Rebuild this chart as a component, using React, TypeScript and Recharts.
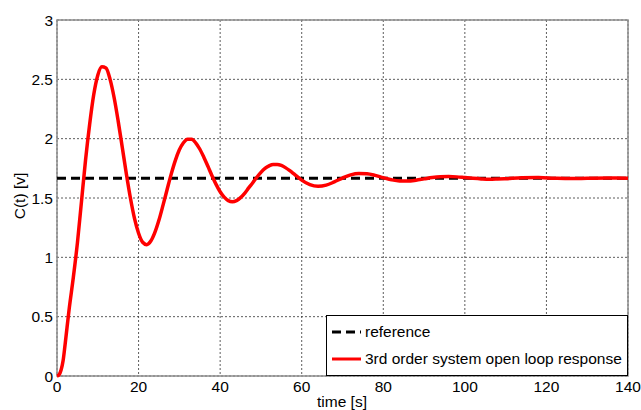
import { CartesianGrid, Legend, Line, LineChart, ReferenceArea, XAxis, YAxis } from "recharts";

// step response
const time = [
  0, 0.5, 1, 1.5, 2, 3, 4, 5, 6, 7, 8, 9, 10, 11, 12, 13, 14, 15, 16, 17, 18, 19, 20,
  21, 22, 23, 24, 25, 26, 27, 28, 29, 30, 31, 32, 33, 34, 35, 36, 37, 38, 39, 40, 41,
  42, 43, 44, 45, 46, 47, 48, 49, 50, 51, 52, 53, 54, 55, 56, 57, 58, 59, 60, 62, 64,
  66, 68, 70, 72, 74, 76, 78, 80, 82, 84, 86, 88, 90, 92, 94, 96, 98, 100, 102, 104,
  106, 108, 110, 114, 118, 122, 126, 130, 135, 140,
];
const response = [
  0, 0.01, 0.05, 0.13, 0.27, 0.57, 0.83, 1.12, 1.47, 1.82, 2.12, 2.37, 2.535, 2.605,
  2.595, 2.502, 2.347, 2.148, 1.928, 1.705, 1.5, 1.328, 1.203, 1.127, 1.107, 1.137,
  1.21, 1.314, 1.44, 1.572, 1.701, 1.815, 1.906, 1.966, 1.996, 1.995, 1.965, 1.913,
  1.844, 1.767, 1.688, 1.615, 1.553, 1.507, 1.478, 1.469, 1.478, 1.503, 1.54, 1.585,
  1.629, 1.675, 1.716, 1.749, 1.771, 1.783, 1.783, 1.774, 1.756, 1.732, 1.705, 1.677,
  1.651, 1.612, 1.598, 1.608, 1.636, 1.668, 1.695, 1.707, 1.705, 1.691, 1.671, 1.654,
  1.644, 1.643, 1.65, 1.661, 1.672, 1.679, 1.681, 1.678, 1.672, 1.666, 1.661, 1.658,
  1.66, 1.663, 1.67, 1.672, 1.667, 1.664, 1.666, 1.668, 1.667,
];
const referenceLevel = 1.667;

const xTicks = [0, 20, 40, 60, 80, 100, 120, 140];
const yTicks = [0, 0.5, 1, 1.5, 2, 2.5, 3];
const legendOrder = ["reference", "3rd order system open loop response"];

const data = time.map((t, i) => ({ t, reference: referenceLevel, response: response[i] }));

const FONT = "'Liberation Sans', Arial, sans-serif";

function LegendBox({ payload }: any) {
  const items = [...(payload || [])].sort(
    (a: any, b: any) => legendOrder.indexOf(a.value) - legendOrder.indexOf(b.value)
  );
  return (
    <div
      style={{
        border: "1px solid #000",
        background: "#fff",
        boxSizing: "border-box",
        width: 302,
        height: 61,
        padding: "2px 0 0 5px",
        fontFamily: FONT,
        fontSize: 15.5,
        color: "#000",
      }}
    >
      {items.map((p: any) => (
        <div key={p.value} style={{ display: "flex", alignItems: "center", height: 27 }}>
          <svg width={30} height={6} style={{ marginRight: 3 }}>
            <line
              x1={0}
              y1={3}
              x2={29}
              y2={3}
              stroke={p.color}
              strokeWidth={3}
              strokeDasharray={p.payload?.strokeDasharray}
            />
          </svg>
          <span>{p.value}</span>
        </div>
      ))}
    </div>
  );
}

export default function App() {
  return (
    <div style={{ position: "absolute", left: 0, top: 0, width: 641, height: 410, background: "#fff" }}>
      <LineChart width={641} height={410} data={data} margin={{ top: 20, right: 13, bottom: 0, left: 0 }}>
        <CartesianGrid stroke="#333" strokeDasharray="2 2" strokeWidth={0.8} />
        <ReferenceArea x1={0} x2={140} y1={0} y2={3} fill="none" stroke="#8c8c8c" strokeWidth={1.5} />
        <XAxis
          dataKey="t"
          type="number"
          domain={[0, 140]}
          ticks={xTicks}
          interval={0}
          axisLine={false}
          tickLine={false}
          tickSize={2}
          tickMargin={3}
          height={34}
          tick={{ fill: "#000", fontSize: 15.5, fontFamily: FONT }}
          label={() => (
            <text x={342} y={407} textAnchor="middle" fontSize={15.5} fontFamily={FONT} fill="#000">
              time [s]
            </text>
          )}
        />
        <YAxis
          type="number"
          domain={[0, 3]}
          ticks={yTicks}
          interval={0}
          axisLine={false}
          tickLine={false}
          tickSize={2}
          tickMargin={2}
          width={57}
          tick={{ fill: "#000", fontSize: 15.5, fontFamily: FONT }}
          label={() => (
            <text
              x={19}
              y={196}
              transform="rotate(-90 19 196)"
              textAnchor="middle"
              dominantBaseline="central"
              fontSize={15.5}
              fontFamily={FONT}
              fill="#000"
            >
              C(t) [v]
            </text>
          )}
        />
        <Line
          dataKey="reference"
          name="reference"
          stroke="#000"
          strokeWidth={3}
          strokeDasharray="9 5"
          dot={false}
          isAnimationActive={false}
        />
        <Line
          dataKey="response"
          name="3rd order system open loop response"
          type="monotone"
          stroke="#ff0000"
          strokeWidth={3.5}
          dot={false}
          isAnimationActive={false}
        />
        <Legend
          layout="vertical"
          align="center"
          verticalAlign="middle"
          content={<LegendBox />}
          wrapperStyle={{ left: 326, top: 315, width: 302, height: 61 }}
        />
      </LineChart>
    </div>
  );
}
